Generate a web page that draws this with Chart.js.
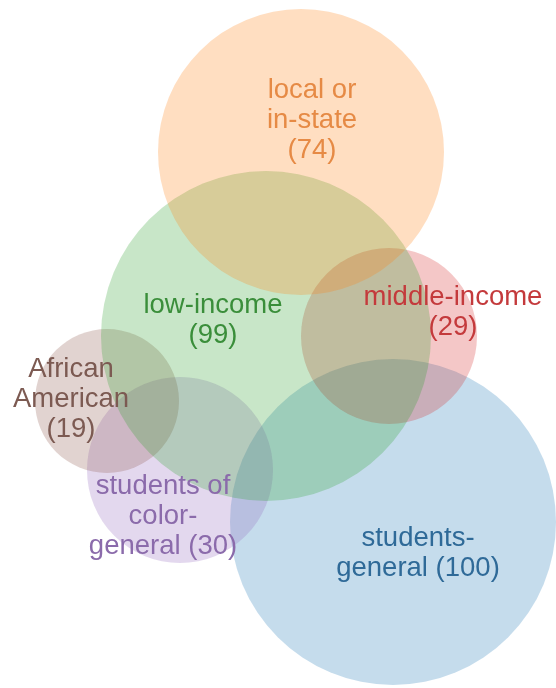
<!DOCTYPE html>
<html lang="en">
<head>
<meta charset="utf-8">
<title>Venn</title>
<script src="https://cdn.jsdelivr.net/npm/chart.js@4.4.0/dist/chart.umd.min.js"></script>
<style>
html,body{margin:0;padding:0;background:#fff}
#wrap{position:relative;width:556px;height:688px}
</style>
</head>
<body>
<div id="wrap"><canvas id="chart"></canvas></div>
<script>
/* sets and sizes */
const sets    = ['local or in-state','low-income','middle-income','African American','students of color-general','students-general'];
const counts  = [74, 99, 29, 19, 30, 100];
const labels  = [
  ['local or','in-state','(74)'],
  ['low-income','(99)'],
  ['middle-income','(29)'],
  ['African','American','(19)'],
  ['students of','color-','general (30)'],
  ['students-','general (100)']
];
/* venn layout (layout units) */
const layoutX = [301, 266, 389, 107, 180, 393];
const layoutY = [152, 336, 336, 401, 470, 522];
const layoutR = [143, 165, 88, 72, 93, 163];
const labelX  = [312, 213, 453, 71, 163, 418];
const labelY  = [98, 313, 305, 377, 494, 546];

const colors    = ['#ff7f0e','#2ca02c','#d62728','#8c564b','#9467bd','#1f77b4'];
const textColor = ['#e68a45','#3a8e3a','#c43a3c','#7c5a52','#8b6bab','#2f6a98'];
const alpha = (hex,a)=>{
  const n=parseInt(hex.slice(1),16);
  return `rgba(${n>>16},${(n>>8)&255},${n&255},${a})`;
};

const vennLabels = {
  id:'vennLabels',
  afterDatasetsDraw(chart){
    const {ctx, scales:{x,y}} = chart;
    ctx.save();
    ctx.font = '27.5px "Liberation Sans", Arial, sans-serif';
    ctx.textAlign = 'center';
    ctx.textBaseline = 'alphabetic';
    labels.forEach((lines,i)=>{
      ctx.fillStyle = textColor[i];
      lines.forEach((t,k)=>{
        ctx.fillText(t, x.getPixelForValue(labelX[i]), y.getPixelForValue(labelY[i]+k*30));
      });
    });
    ctx.restore();
  }
};

new Chart(document.getElementById('chart'),{
  type:'bubble',
  data:{
    datasets: sets.map((s,i)=>({
      label:s,
      data:[{x:layoutX[i], y:layoutY[i], r:layoutR[i], n:counts[i]}],
      backgroundColor:alpha(colors[i],0.26),
      borderWidth:0,
      hoverBorderWidth:0,
      clip:false,
      radius:ctx=>{
        const sx=ctx.chart.scales.x;
        return sx.getPixelForValue(layoutR[i]) - sx.getPixelForValue(0);
      }
    }))
  },
  options:{
    responsive:true,
    maintainAspectRatio:false,
    animation:false,
    layout:{padding:0,autoPadding:false},
    events:[],
    scales:{
      x:{type:'linear',min:0,max:556,display:false},
      y:{type:'linear',min:0,max:688,reverse:true,display:false}
    },
    plugins:{legend:{display:false},tooltip:{enabled:false}}
  },
  plugins:[vennLabels]
});
</script>
</body>
</html>
